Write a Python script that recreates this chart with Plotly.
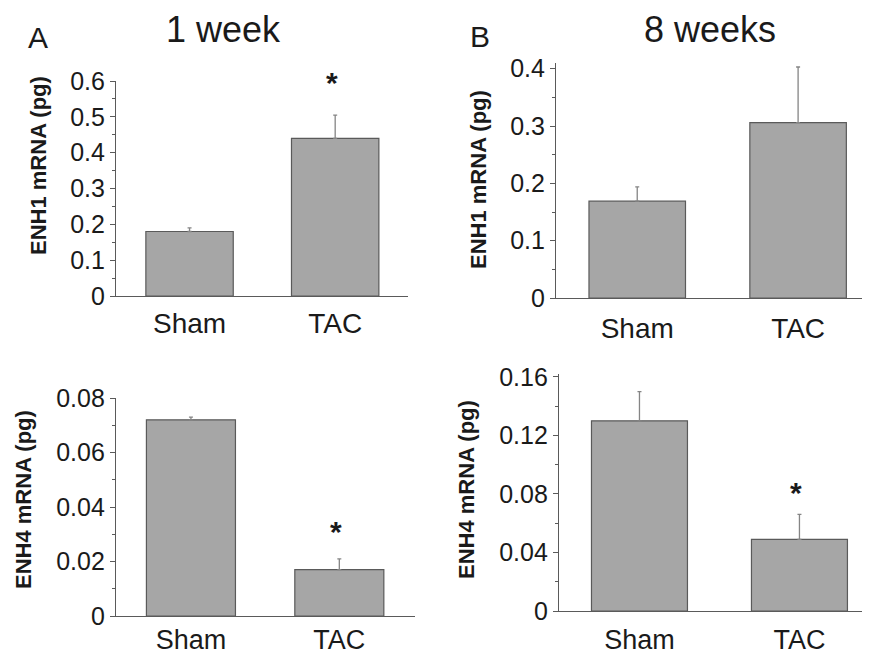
import plotly.graph_objects as go

W, H = 870, 654
OFF = 8  # page body margin offset compensation

categories = ["Sham", "TAC"]

# Panel A (1 week)
enh1_1wk = [0.18, 0.44]
enh1_1wk_err = [0.01, 0.065]
enh4_1wk = [0.072, 0.017]
enh4_1wk_err = [0.001, 0.004]

# Panel B (8 weeks)
enh1_8wk = [0.169, 0.306]
enh1_8wk_err = [0.025, 0.097]
enh4_8wk = [0.130, 0.049]
enh4_8wk_err = [0.020, 0.017]

y_titles = ["ENH1 mRNA (pg)", "ENH4 mRNA (pg)"]
panel_titles = ["1 week", "8 weeks"]
panel_letters = ["A", "B"]

FONT = "Liberation Sans, Arial, sans-serif"
BAR = "#a6a6a6"
EDGE = "#5a5a5a"

def px_x(p):
    return (p - OFF) / W

def px_y(p):
    return 1 - (p - OFF) / H

fig = go.Figure()

panels = [
    dict(v=enh1_1wk, e=enh1_1wk_err, xd=(116, 408), yd=(296, 81), xr=[-0.505, 1.5], yr=[0, 0.6],
         dt=0.1, mn=0.05, so=2, fs=28, sig=[False, True], ash=14),
    dict(v=enh1_8wk, e=enh1_8wk_err, xd=(556, 870), yd=(298, 63), xr=[-0.505, 1.447], yr=[0, 0.41],
         dt=0.1, mn=0.05, so=5, fs=28, sig=[False, False], ash=0),
    dict(v=enh4_1wk, e=enh4_1wk_err, xd=(116, 415), yd=(616, 398), xr=[-0.505, 1.51], yr=[0, 0.08],
         dt=0.02, mn=0.01, so=-1, fs=27, sig=[False, True], ash=9),
    dict(v=enh4_8wk, e=enh4_8wk_err, xd=(559, 870), yd=(611, 374), xr=[-0.503, 1.441], yr=[0, 0.162],
         dt=0.04, mn=0.02, so=4, fs=27, sig=[False, True], ash=3),
]

for i, p in enumerate(panels):
    n = "" if i == 0 else str(i + 1)
    fig.add_trace(go.Bar(
        x=categories, y=p["v"],
        xaxis="x" + n, yaxis="y" + n,
        marker=dict(color=BAR, line=dict(color=EDGE, width=1.2)),
        error_y=dict(type="data", symmetric=False, array=p["e"], arrayminus=[0, 0],
                     color="#858585", thickness=1.3, width=2),
        width=0.6,
        showlegend=False,
    ))
    fig.layout["xaxis" + n] = dict(
        domain=[px_x(p["xd"][0]), px_x(p["xd"][1])], anchor="y" + n,
        type="category", range=p["xr"], showline=True, linecolor=EDGE, linewidth=1.2,
        ticks="", showgrid=False, zeroline=False, automargin=False,
        tickfont=dict(family=FONT, size=p["fs"], color="#1a1a1a"),
        ticklabelstandoff=p["so"],
    )
    fig.layout["yaxis" + n] = dict(
        domain=[px_y(p["yd"][0]), px_y(p["yd"][1])], anchor="x" + n,
        range=p["yr"], showline=True, linecolor=EDGE, linewidth=1.2,
        ticks="outside", ticklen=5, tickcolor=EDGE, dtick=p["dt"], tick0=0,
        minor=dict(ticks="outside", ticklen=3, dtick=p["mn"], tick0=0, tickcolor=EDGE),
        showgrid=False, zeroline=False, automargin=False,
        tickfont=dict(family=FONT, size=25, color="#1a1a1a"),
    )
    for j, s in enumerate(p["sig"]):
        if s:
            fig.add_annotation(
                x=categories[j], y=p["v"][j] + p["e"][j], xref="x" + n, yref="y" + n,
                text="<b>*</b>", showarrow=False, yanchor="bottom", yshift=p["ash"], xshift=-3,
                font=dict(family=FONT, size=30, color="#1a1a1a"),
            )

ytitle_pos = [(38, 166, y_titles[0]), (478, 180, y_titles[0]), (23, 500, y_titles[1]), (467, 490, y_titles[1])]
for (xp, yp, t) in ytitle_pos:
    fig.add_annotation(x=px_x(xp), y=px_y(yp), xref="paper", yref="paper", text="<b>" + t + "</b>",
                       textangle=-90, showarrow=False, xanchor="center", yanchor="middle",
                       font=dict(family=FONT, size=22, color="#1a1a1a"))

for (xp, yp, t, sz) in [(223, 30, panel_titles[0], 36), (710, 30, panel_titles[1], 36),
                         (38, 38, panel_letters[0], 30), (480, 37, panel_letters[1], 30)]:
    fig.add_annotation(x=px_x(xp), y=px_y(yp), xref="paper", yref="paper", text=t,
                       showarrow=False, xanchor="center", yanchor="middle",
                       font=dict(family=FONT, size=sz, color="#1a1a1a"))

fig.update_layout(
    width=W, height=H, margin=dict(l=0, r=0, t=0, b=0, autoexpand=False),
    paper_bgcolor="white", plot_bgcolor="white", bargap=0.4,
)

fig.write_html("out.html")
